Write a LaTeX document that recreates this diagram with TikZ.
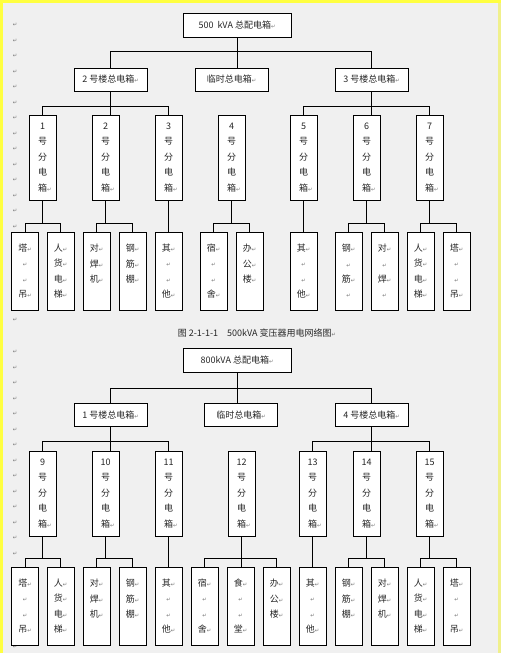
\documentclass[tikz,border=0pt]{standalone}
\usepackage{fontspec}
\setmainfont{Noto Sans CJK SC}
\newfontfamily\markfont{DejaVu Sans}
\usetikzlibrary{positioning, calc}

\definecolor{pagegray}{HTML}{F0F0F0}
\definecolor{baryellow}{HTML}{FFFF40}
\definecolor{paleyellow}{HTML}{F0F08C}
\newcommand\parmk{{\markfont\fontsize{4}{5}\selectfont\textcolor{black!55}{↵}}}

\begin{document}
\begin{tikzpicture}[
  x=0.75pt, y=-0.75pt,
  every node/.style = {font=\fontsize{6.75}{11.6}\selectfont, text=black!85},
  mainbox/.style = {draw=black, line width=0.75pt, fill=white, minimum width=81pt, minimum height=18pt, inner sep=0pt},
  groupbox/.style = {draw=black, line width=0.75pt, fill=white, minimum width=54.75pt, minimum height=17.25pt, inner sep=0pt},
  subbox/.style = {draw=black, line width=0.75pt, fill=white, minimum width=20.25pt, minimum height=63.75pt, inner sep=0pt, align=center},
  leafbox/.style = {draw=black, line width=0.75pt, fill=white, minimum width=20.25pt, minimum height=58.5pt, inner sep=0pt, align=center},
  wire/.style = {line width=0.75pt},
  marginmark/.style = {inner sep=0pt}
]

% Page
\fill[pagegray] (0,0) rectangle (505,653);
\fill[white] (501,0) rectangle (505,653);
\fill[paleyellow] (498,0) rectangle (501,653);
\fill[baryellow] (0,0) rectangle (501,3);
\fill[baryellow] (0,0) rectangle (3,653);
\useasboundingbox (0,0) rectangle (505,653);

% Paragraph marks in the margin
\foreach \k in {0,...,13} {
  \node[marginmark] (pa\k) at (15,{25+15.5*\k}) {\parmk};
  \node[marginmark] (pb\k) at (15,{352+15.5*\k}) {\parmk};
}
\node[marginmark] (pc1) at (15,320) {\parmk};
\node[marginmark] (pc2) at (15,647) {\parmk};

% Nodes -- 500 kVA
\node[mainbox] (top1) at (237,25) {500 \ kVA 总配电箱\parmk};
\node[groupbox] (g2) at (110.5,79.5) {2 号楼总电箱\parmk};
\node[groupbox] (tmpA) at (231.5,79.5) {临时总电箱\parmk};
\node[groupbox] (g3) at (371.5,79.5) {3 号楼总电箱\parmk};

\foreach \n/\x in {1/42.5, 2/105.5, 3/168.5, 4/231.5, 5/303.5, 6/366.5, 7/429.5}
  \node[subbox] (d\n) at (\x,157.5) {\n\\号\\分\\电\\箱\rlap{\parmk}};

\foreach \i/\x/\txt in {
  1/25/{塔\parmk\\\parmk\\\parmk\\吊\parmk},
  2/60.5/{人\parmk\\货\parmk\\电\parmk\\梯\parmk},
  3/96.5/{对\parmk\\焊\parmk\\机\parmk\\\mbox{}},
  4/132.5/{钢\parmk\\筋\parmk\\棚\parmk\\\mbox{}},
  5/168.5/{其\parmk\\\parmk\\\parmk\\他\parmk},
  6/213.5/{宿\parmk\\\parmk\\\parmk\\舍\parmk},
  7/249.5/{办\parmk\\公\parmk\\楼\parmk\\\mbox{}},
  8/303.5/{其\parmk\\\parmk\\\parmk\\他\parmk},
  9/348.5/{钢\parmk\\\parmk\\筋\parmk\\\parmk},
  10/384.5/{对\parmk\\\parmk\\焊\parmk\\\parmk},
  11/420.5/{人\parmk\\货\parmk\\电\parmk\\梯\parmk},
  12/456.5/{塔\parmk\\\parmk\\\parmk\\吊\parmk}}
  \node[leafbox] (l\i) at (\x,271) {\txt};

\node (cap) at (257,333) {图 2-1-1-1\quad 500kVA 变压器用电网络图\parmk};

% Nodes -- 800 kVA
\node[mainbox] (top2) at (237,360.5) {800kVA 总配电箱\parmk};
\node[groupbox] (g1) at (110.5,415) {1 号楼总电箱\parmk};
\node[groupbox] (tmpB) at (241,415) {临时总电箱\parmk};
\node[groupbox] (g4) at (371.5,415) {4 号楼总电箱\parmk};

\foreach \n/\x in {9/42.5, 10/105.5, 11/168.5, 12/241.5, 13/312.5, 14/366.5, 15/429.5}
  \node[subbox] (d\n) at (\x,493.5) {\n\\号\\分\\电\\箱\rlap{\parmk}};

\foreach \i/\x/\txt in {
  1/25/{塔\parmk\\\parmk\\\parmk\\吊\parmk},
  2/60.5/{人\parmk\\货\parmk\\电\parmk\\梯\parmk},
  3/96.5/{对\parmk\\焊\parmk\\机\parmk\\\mbox{}},
  4/132.5/{钢\parmk\\筋\parmk\\棚\parmk\\\mbox{}},
  5/168.5/{其\parmk\\\parmk\\\parmk\\他\parmk},
  6/204.5/{宿\parmk\\\parmk\\\parmk\\舍\parmk},
  7/240.5/{食\parmk\\\parmk\\\parmk\\堂\parmk},
  8/276.5/{办\parmk\\公\parmk\\楼\parmk\\\mbox{}},
  9/312.5/{其\parmk\\\parmk\\\parmk\\他\parmk},
  10/348.5/{钢\parmk\\筋\parmk\\棚\parmk\\\mbox{}},
  11/384.5/{对\parmk\\焊\parmk\\机\parmk\\\mbox{}},
  12/420.5/{人\parmk\\货\parmk\\电\parmk\\梯\parmk},
  13/456.5/{塔\parmk\\\parmk\\\parmk\\吊\parmk}}
  \node[leafbox] (m\i) at (\x,606) {\txt};

% Connections
\foreach \p/\a/\b/\c/\d in {top1/g2/tmpA/g3/16, g2/d1/d2/d3/8, g3/d5/d6/d7/8,
    top2/g1/tmpB/g4/15, g1/d9/d10/d11/9, g4/d13/d14/d15/9, d12/m6/m7/m8/8} {
  \draw[wire] (\a.north) -- ++(0,-\d) -| (\c.north);
  \draw[wire] (\p.south) -- (\p.south |- \b.north);
}
\foreach \p/\a/\b in {d1/l1/l2, d2/l3/l4, d4/l6/l7, d6/l9/l10, d7/l11/l12,
    d9/m1/m2, d10/m3/m4, d14/m10/m11, d15/m12/m13} {
  \draw[wire] (\a.north) -- ++(0,-8) coordinate (bus) -| (\b.north);
  \draw[wire] (\p.south) -- (\p.south |- bus);
}
\foreach \p/\c in {d3/l5, d5/l8, d11/m5, d13/m9}
  \draw[wire] (\p.south) -- (\c.north);

\end{tikzpicture}
\end{document}
